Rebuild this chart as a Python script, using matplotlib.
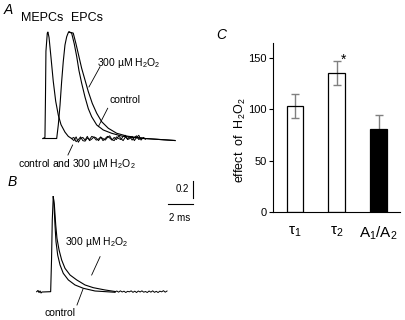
import numpy as np
import matplotlib
matplotlib.use('Agg')
import matplotlib.pyplot as plt

plt.rcParams['font.family'] = ['Liberation Sans', 'DejaVu Sans']
plt.rcParams['mathtext.fontset'] = 'custom'
plt.rcParams['mathtext.rm'] = 'Liberation Sans'
plt.rcParams['mathtext.it'] = 'Liberation Sans:italic'
plt.rcParams['mathtext.bf'] = 'Liberation Sans:bold'

# ---------------- panel A data (ms, normalized amplitude) ----------------
# MEPC (control and H2O2 overlap)
mepc_t = [0, 0.16, 0.2, 0.24, 0.35, 0.40, 0.49, 0.65, 0.83, 1.03, 1.24, 1.46, 1.78, 2.05, 2.32]
mepc_y = [0, 0.01, 0.36, 0.82, 0.99, 1.0, 0.95, 0.76, 0.54, 0.35, 0.22, 0.13, 0.06, 0.02, 0.0]
# noisy tails of the two MEPC traces
tail_t = np.linspace(2.32, 8.3, 34)
tail_ctrl = [0.0, 0.01, -0.03, -0.01, 0.015, -0.02, -0.025, 0.005, -0.01, 0.02, 0.01, -0.015,
             -0.005, 0.015, -0.02, 0.0, 0.02, 0.005, -0.015, 0.01, -0.01, 0.025, 0.0, -0.02,
             0.015, -0.005, 0.02, -0.015, 0.01, 0.025, -0.01, 0.005, 0.0, -0.005]
tail_h2o2 = [0.0, -0.02, 0.015, -0.035, 0.0, 0.01, -0.015, 0.02, -0.02, -0.005, 0.015, 0.005,
             -0.02, 0.01, 0.0, -0.015, 0.01, 0.025, -0.01, -0.02, 0.015, 0.0, -0.01, 0.02,
             0.03, -0.01, 0.0, 0.02, -0.02, 0.01, 0.03, -0.015, 0.01, -0.005]

# EPC rising phase (shared)
epc_rise_t = [0, 1.11, 1.24, 1.38, 1.51, 1.64, 1.78, 1.92, 2.05, 2.11]
epc_rise_y = [0, 0, 0.127, 0.315, 0.533, 0.72, 0.878, 0.956, 0.995, 1.0]
# EPC decays
epc_ctrl_t = [2.11, 2.32, 2.53, 2.73, 2.91, 3.13, 3.40, 3.67, 3.94, 4.35, 4.88, 5.56, 6.37, 7.18, 8.26, 10.69]
epc_ctrl_y = [1.0, 0.99, 0.89, 0.77, 0.64, 0.52, 0.39, 0.28, 0.205, 0.127, 0.08, 0.049, 0.023, 0.011, 0.0, -0.019]
epc_h2o2_t = [2.11, 2.45, 2.67, 2.91, 3.13, 3.40, 3.67, 3.99, 4.35, 4.75, 5.29, 5.97, 6.78, 7.45, 8.26, 10.69]
epc_h2o2_y = [1.0, 0.99, 0.89, 0.77, 0.66, 0.55, 0.44, 0.33, 0.237, 0.158, 0.096, 0.049, 0.023, 0.011, 0.0, -0.019]

# ---------------- panel B data ----------------
b_rise_t = [0, 0.105, 0.19, 0.27, 0.35, 0.43, 1.13, 1.2, 1.26, 1.34]
b_rise_y = [0, 0.014, -0.01, 0.008, -0.015, -0.004, 0, 0.373, 0.84, 1.118]
b_ctrl_t = [1.34, 1.40, 1.48, 1.56, 1.70, 1.89, 2.15, 2.56, 3.10, 3.77, 4.72, 6.34]
b_ctrl_y = [1.118, 1.02, 0.785, 0.59, 0.43, 0.314, 0.216, 0.138, 0.079, 0.04, 0.008, -0.007]
b_h2o2_t = [1.34, 1.43, 1.54, 1.64, 1.81, 2.02, 2.29, 2.70, 3.24, 3.91, 4.58, 5.53, 6.34]
b_h2o2_y = [1.118, 1.02, 0.785, 0.628, 0.49, 0.373, 0.275, 0.196, 0.138, 0.079, 0.047, 0.02, 0.002]
b_tail_t = np.linspace(6.34, 10.55, 30)
b_tail_y = [-0.002, 0.008, -0.006, 0.01, -0.004, 0.006, -0.01, 0.004, -0.002, 0.01, -0.008, 0.006,
            -0.01, 0.008, -0.004, 0.01, -0.006, 0.002, -0.01, 0.008, -0.006, 0.01, -0.008, 0.004,
            -0.01, 0.006, -0.002, 0.012, -0.006, 0.008]

# ---------------- panel C data ----------------
c_labels = [r'$\mathrm{\tau}_1$', r'$\mathrm{\tau}_2$', r'A$_1$/A$_2$']
c_values = [103, 135, 81]
c_err = [12, 12, 13]
c_colors = ['none', 'none', 'black']

fig = plt.figure(figsize=(4.06, 3.2), dpi=100)


def rect(l, t, r, b):
    return [l / 406, 1 - b / 320, (r - l) / 406, (b - t) / 320]


lw = 0.8
plw = 0.6  # pointer lines

# panel A
axa = fig.add_axes(rect(30, 20, 190, 150))
axa.plot(mepc_t, mepc_y, color='black', lw=lw)
axa.plot(tail_t, tail_ctrl, color='black', lw=0.7)
axa.plot(tail_t, tail_h2o2, color='black', lw=0.7)
axa.plot(epc_rise_t, epc_rise_y, color='black', lw=lw)
axa.plot(epc_ctrl_t, epc_ctrl_y, color='black', lw=lw)
axa.plot(epc_h2o2_t, epc_h2o2_y, color='black', lw=lw)
axa.set_xlim(-1.05, 11.90)
axa.set_ylim(-0.108, 1.113)
axa.axis('off')

axa.text(6.9, 0.71, '300 µM H$_2$O$_2$', fontsize=7.5, ha='center', va='center')
axa.plot([3.72, 4.62], [0.484, 0.674], color='black', lw=plw)
axa.text(6.64, 0.362, 'control', fontsize=7.5, ha='center', va='center')
axa.plot([4.48, 5.24], [0.111, 0.284], color='black', lw=plw)
axa.text(2.75, -0.239, 'control and 300 µM H$_2$O$_2$', fontsize=7.5, ha='center', va='center',
         clip_on=False)
axa.plot([2.02, 2.40], [-0.155, -0.061], color='black', lw=plw, clip_on=False)

# panel B
axb = fig.add_axes(rect(30, 175, 200, 300))
axb.plot(b_rise_t, b_rise_y, color='black', lw=lw)
axb.plot(b_ctrl_t, b_ctrl_y, color='black', lw=lw)
axb.plot(b_h2o2_t, b_h2o2_y, color='black', lw=lw)
axb.plot(b_tail_t, b_tail_y, color='black', lw=0.7)
axb.set_xlim(-0.543, 13.22)
axb.set_ylim(-0.098, 1.373)
axb.axis('off')
axb.text(4.88, 0.588, '300 µM H$_2$O$_2$', fontsize=7.5, ha='center', va='center')
axb.plot([5.13, 4.45], [0.412, 0.196], color='black', lw=plw)
axb.text(1.89, -0.25, 'control', fontsize=7.5, ha='center', va='center', clip_on=False)
axb.plot([3.26, 3.75], [-0.157, 0.032], color='black', lw=plw, clip_on=False)
# scale bars
axb.plot([12.65, 12.65], [1.1, 1.3], color='black', lw=0.8)
axb.plot([10.65, 12.65], [1.03, 1.03], color='black', lw=0.8)
axb.text(11.78, 1.208, '0.2', fontsize=7, ha='center', va='center')
axb.text(11.6, 0.867, '2 ms', fontsize=7, ha='center', va='center')

# panel C
axc = fig.add_axes(rect(273, 43, 400, 212))
x = np.arange(1, len(c_values) + 1)
axc.errorbar(x, c_values, yerr=c_err, fmt='none', ecolor='#808080', elinewidth=1,
             capsize=3, capthick=1, zorder=2)
axc.bar(x, c_values, width=0.4, color=c_colors, edgecolor='black', linewidth=0.9, zorder=3)
axc.text(2.17, 148, '*', fontsize=10, ha='center', va='center')
axc.set_xlim(0.476, 3.51)
axc.set_ylim(0, 164.2)
axc.spines['top'].set_visible(False)
axc.spines['right'].set_visible(False)
axc.set_yticks([0, 50, 100, 150])
axc.tick_params(axis='y', labelsize=8, length=3, width=0.8, pad=1.5)
axc.set_xticks(x)
axc.set_xticklabels(c_labels, fontsize=11)
axc.tick_params(axis='x', length=0, pad=9)
fig.text(240 / 406, 1 - 140 / 320, 'effect  of  H$_2$O$_2$', rotation=90, fontsize=9,
         ha='center', va='center')

# panel letters
fig.text(8 / 406, 1 - 10 / 320, 'A', fontsize=10, style='italic', ha='center', va='center')
fig.text(12 / 406, 1 - 182 / 320, 'B', fontsize=10, style='italic', ha='center', va='center')
fig.text(221 / 406, 1 - 35 / 320, 'C', fontsize=10, style='italic', ha='center', va='center')
fig.text(42 / 406, 1 - 18 / 320, 'MEPCs', fontsize=9, ha='center', va='center')
fig.text(87 / 406, 1 - 18 / 320, 'EPCs', fontsize=9, ha='center', va='center')

fig.savefig('out.png', dpi=100)
